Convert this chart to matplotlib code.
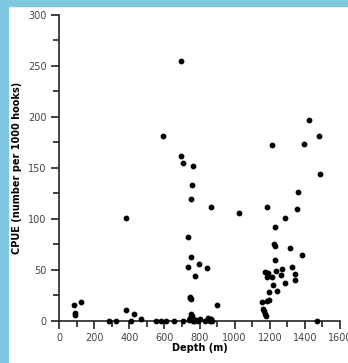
import matplotlib.pyplot as plt
from matplotlib.patches import Rectangle
from matplotlib.ticker import MultipleLocator

# depth (m) and CPUE (number per 1000 hooks)
depth = [697, 593, 380, 697, 703, 764, 758, 749, 863, 1026,
         732, 751, 732, 796, 772, 840, 745, 752, 748, 899,
         84, 89, 89, 127, 380, 428, 464,
         285, 323, 409, 549, 580, 606, 654, 705, 1467,
         740, 745, 750, 755, 760, 765, 770, 780, 790, 805,
         830, 850, 855, 860, 865, 870,
         1214, 1182, 1286, 1229, 1223, 1229, 1315, 1363, 1355, 1423,
         1395, 1480, 1484, 1382, 1325, 1228, 1343, 1342, 1267, 1263,
         1286, 1239, 1172, 1191, 1182, 1210, 1235, 1220, 1195, 1194,
         1182, 1157, 1163, 1172, 1176, 1169]
cpue = [255, 181, 101, 161, 155, 152, 133, 119, 111, 106,
        82, 62, 53, 56, 44, 52, 22, 21, 23, 15,
        15, 8, 6, 18, 10.5, 7, 2,
        0, 0, 0, 0, 0, 0, 0, 0, 0,
        1, 3, 7, 5, 0, 2, 0, 1, 0, 2,
        0, 3, 1, 0, 2, 0,
        172, 111, 101, 92, 75, 73, 71, 126, 110, 197,
        173, 181, 144, 64, 53, 60, 46, 40, 51, 45,
        37, 29, 48, 47, 43, 43, 49, 35, 28, 20,
        19, 18, 11, 7, 5, 10]

fig = plt.figure(figsize=(3.48, 3.63), dpi=100)
fig.patch.set_facecolor('white')
blue = '#7ec8e0'
fig.add_artist(Rectangle((0, 0), 8 / 348, 1, transform=fig.transFigure, color=blue, zorder=-1))
fig.add_artist(Rectangle((0, 1 - 6 / 363), 1, 6 / 363, transform=fig.transFigure, color=blue, zorder=-1))

ax = fig.add_axes([0.170, 0.1165, 0.807, 0.843])
ax.scatter(depth, cpue, s=10, color='black', marker='o', zorder=3, clip_on=False)

ax.set_xlim(0, 1600)
ax.set_ylim(0, 300)
ax.spines['top'].set_visible(False)
ax.spines['right'].set_visible(False)
for s in ['left', 'bottom']:
    ax.spines[s].set_linewidth(1.2)
    ax.spines[s].set_color('#222222')

ax.xaxis.set_major_locator(MultipleLocator(200))
ax.xaxis.set_minor_locator(MultipleLocator(100))
ax.yaxis.set_major_locator(MultipleLocator(50))
ax.yaxis.set_minor_locator(MultipleLocator(25))
ax.tick_params(which='major', length=6, width=1.2, color='#222222', labelsize=7,
               labelcolor='#444444', pad=3)
ax.tick_params(which='minor', length=4, width=1.2, color='#222222')

ax.set_xlabel('Depth (m)', fontsize=7, fontweight='bold', labelpad=0)
ax.set_ylabel('CPUE (number per 1000 hooks)', fontsize=7, fontweight='bold', labelpad=4)

fig.savefig('out.png', dpi=100)
